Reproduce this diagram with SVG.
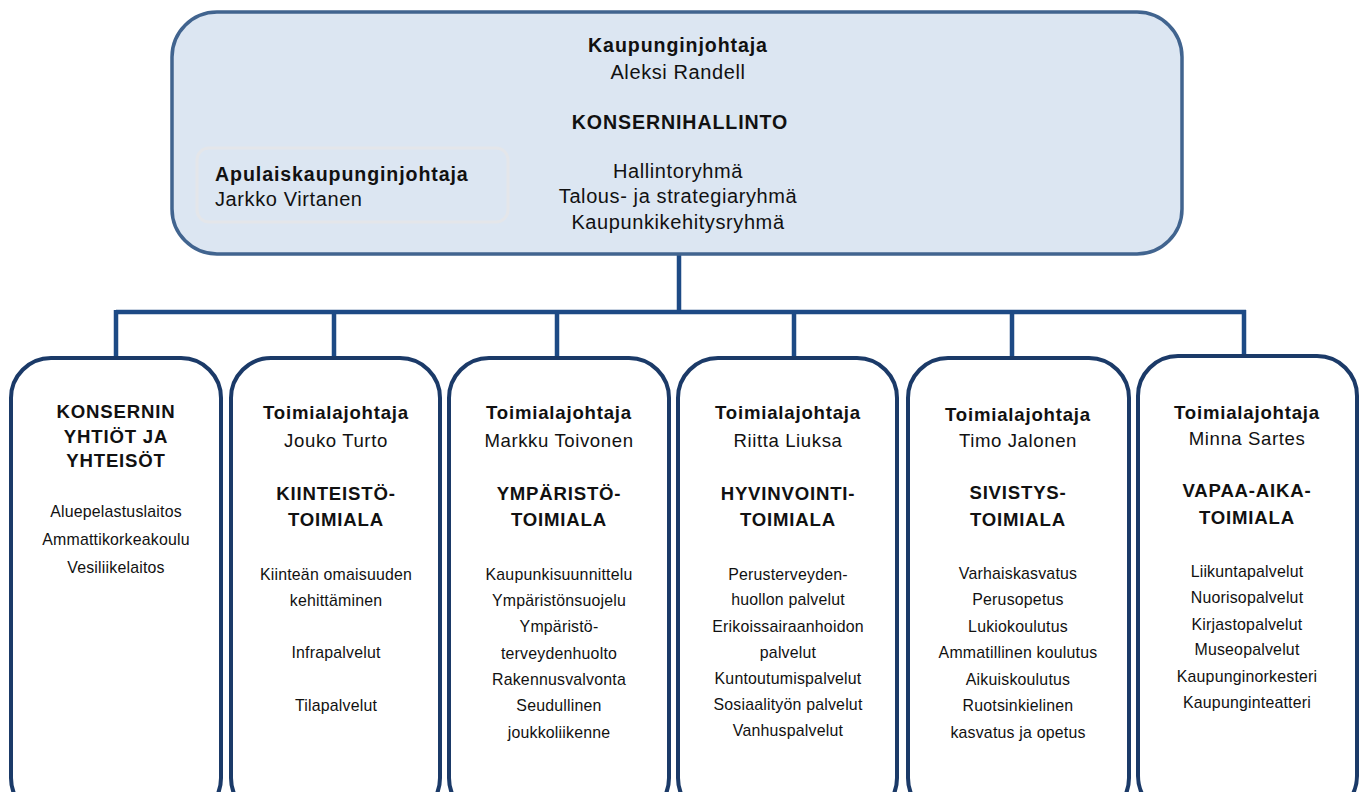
<svg xmlns="http://www.w3.org/2000/svg" width="1365" height="792" viewBox="0 0 1365 792">
<style>
text{font-family:"Liberation Sans",Arial,sans-serif;fill:#111;text-anchor:middle}
.b{font-weight:bold;font-size:18.6px;letter-spacing:0.8px}
.r{font-size:18.6px;letter-spacing:0.6px}
.tb{font-weight:bold;font-size:19.6px;letter-spacing:0.9px}
.tr{font-size:20px;letter-spacing:0.6px}
.s{font-size:15.9px;letter-spacing:0.2px}
.box{fill:#fff;stroke:#1b3a68;stroke-width:4}
.conn{fill:none;stroke:#1d4a85;stroke-width:4.5}
</style>
<rect width="1365" height="792" fill="#fff"/>
<g id="connectors">
<path class="conn" d="M679 255V312M116 312H1246M116 310V358M334 310V358M557 310V358M794 310V358M1012 310V358M1244 310V358"/>
</g>
<g id="top">
<rect x="172" y="12" width="1010" height="242" rx="45" fill="#dce6f2" stroke="#41648f" stroke-width="3.5"/>
<text class="tb" x="678" y="52">Kaupunginjohtaja</text>
<text class="tr" x="678" y="79">Aleksi Randell</text>
<text class="tb" x="680" y="129">KONSERNIHALLINTO</text>
<text class="tr" x="678" y="178">Hallintoryhmä</text>
<text class="tr" x="678" y="203">Talous- ja strategiaryhmä</text>
<text class="tr" x="678" y="229">Kaupunkikehitysryhmä</text>
</g>
<g id="apulainen">
<rect x="197" y="148" width="311" height="74" rx="12" fill="#dce6f2" stroke="#e4e6ea" stroke-width="3"/>
<text class="tb" x="215" y="181" style="text-anchor:start">Apulaiskaupunginjohtaja</text>
<text class="tr" x="215" y="206" style="text-anchor:start">Jarkko Virtanen</text>
</g>
<g id="konserni">
<rect class="box" x="11" y="358" width="210" height="460" rx="40"/>
<text class="b" x="116" y="418">KONSERNIN</text>
<text class="b" x="116" y="443">YHTIÖT JA</text>
<text class="b" x="116" y="467">YHTEISÖT</text>
<text class="s" x="116" y="517">Aluepelastuslaitos</text>
<text class="s" x="116" y="545">Ammattikorkeakoulu</text>
<text class="s" x="116" y="573">Vesiliikelaitos</text>
</g>
<g id="kiinteisto">
<rect class="box" x="231" y="358" width="209" height="460" rx="40"/>
<text class="b" x="336" y="419">Toimialajohtaja</text>
<text class="r" x="336" y="447">Jouko Turto</text>
<text class="b" x="336" y="500">KIINTEISTÖ-</text>
<text class="b" x="336" y="526">TOIMIALA</text>
<text class="s" x="336" y="580">Kiinteän omaisuuden</text>
<text class="s" x="336" y="606">kehittäminen</text>
<text class="s" x="336" y="658">Infrapalvelut</text>
<text class="s" x="336" y="711">Tilapalvelut</text>
</g>
<g id="ymparisto">
<rect class="box" x="449" y="358" width="220" height="460" rx="40"/>
<text class="b" x="559" y="419">Toimialajohtaja</text>
<text class="r" x="559" y="447">Markku Toivonen</text>
<text class="b" x="559" y="500">YMPÄRISTÖ-</text>
<text class="b" x="559" y="526">TOIMIALA</text>
<text class="s" x="559" y="580">Kaupunkisuunnittelu</text>
<text class="s" x="559" y="606">Ympäristönsuojelu</text>
<text class="s" x="559" y="632">Ympäristö-</text>
<text class="s" x="559" y="659">terveydenhuolto</text>
<text class="s" x="559" y="685">Rakennusvalvonta</text>
<text class="s" x="559" y="711">Seudullinen</text>
<text class="s" x="559" y="738">joukkoliikenne</text>
</g>
<g id="hyvinvointi">
<rect class="box" x="678" y="358" width="219" height="460" rx="40"/>
<text class="b" x="788" y="419">Toimialajohtaja</text>
<text class="r" x="788" y="447">Riitta Liuksa</text>
<text class="b" x="788" y="500">HYVINVOINTI-</text>
<text class="b" x="788" y="526">TOIMIALA</text>
<text class="s" x="788" y="580">Perusterveyden-</text>
<text class="s" x="788" y="605">huollon palvelut</text>
<text class="s" x="788" y="632">Erikoissairaanhoidon</text>
<text class="s" x="788" y="658">palvelut</text>
<text class="s" x="788" y="684">Kuntoutumispalvelut</text>
<text class="s" x="788" y="710">Sosiaalityön palvelut</text>
<text class="s" x="788" y="736">Vanhuspalvelut</text>
</g>
<g id="sivistys">
<rect class="box" x="908" y="358" width="221" height="460" rx="40"/>
<text class="b" x="1018" y="421">Toimialajohtaja</text>
<text class="r" x="1018" y="447">Timo Jalonen</text>
<text class="b" x="1018" y="499">SIVISTYS-</text>
<text class="b" x="1018" y="526">TOIMIALA</text>
<text class="s" x="1018" y="579">Varhaiskasvatus</text>
<text class="s" x="1018" y="605">Perusopetus</text>
<text class="s" x="1018" y="632">Lukiokoulutus</text>
<text class="s" x="1018" y="658">Ammatillinen koulutus</text>
<text class="s" x="1018" y="685">Aikuiskoulutus</text>
<text class="s" x="1018" y="711">Ruotsinkielinen</text>
<text class="s" x="1018" y="738">kasvatus ja opetus</text>
</g>
<g id="vapaa-aika">
<rect class="box" x="1138" y="356" width="219" height="460" rx="40"/>
<text class="b" x="1247" y="419">Toimialajohtaja</text>
<text class="r" x="1247" y="445">Minna Sartes</text>
<text class="b" x="1247" y="497">VAPAA-AIKA-</text>
<text class="b" x="1247" y="524">TOIMIALA</text>
<text class="s" x="1247" y="577">Liikuntapalvelut</text>
<text class="s" x="1247" y="603">Nuorisopalvelut</text>
<text class="s" x="1247" y="630">Kirjastopalvelut</text>
<text class="s" x="1247" y="655">Museopalvelut</text>
<text class="s" x="1247" y="682">Kaupunginorkesteri</text>
<text class="s" x="1247" y="708">Kaupunginteatteri</text>
</g>
</svg>
